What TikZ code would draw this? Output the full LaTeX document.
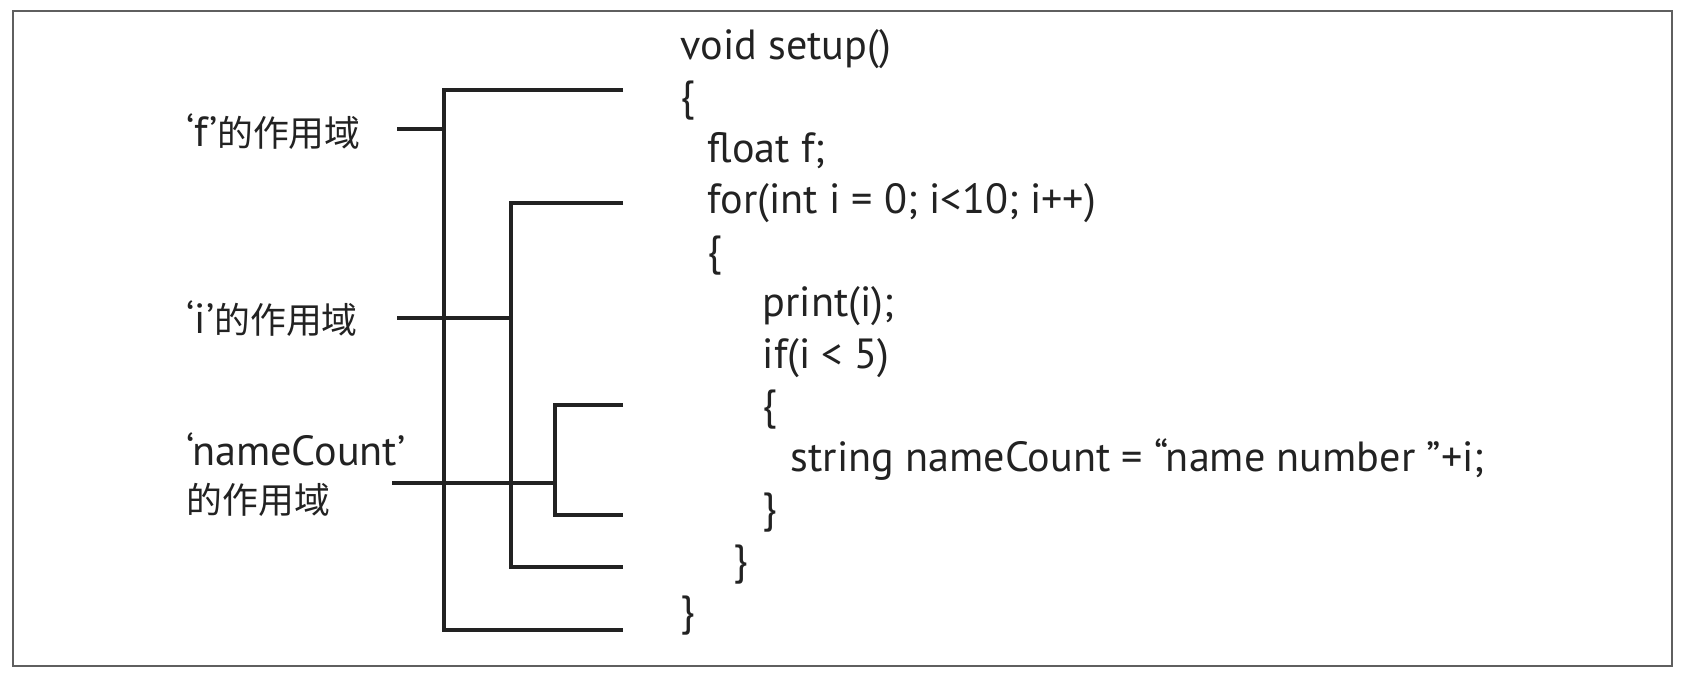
\documentclass[tikz,border=0pt]{standalone}
\usepackage{fontspec}
\setmainfont{PT Sans}
\newfontfamily\cjk[Scale=0.85]{Noto Sans CJK SC}
\usepackage{tikz}
\usetikzlibrary{positioning,calc}
\definecolor{ink}{RGB}{34,34,34}
\definecolor{framegray}{RGB}{95,95,95}

\begin{document}
\begin{tikzpicture}[every node/.style={font=\fontsize{12}{13.7}\selectfont, text=ink, inner sep=0pt},
  code/.style={anchor=west, text height=0.75em, text depth=0.25em},
  scopelabel/.style={anchor=west, align=left},
  scopeline/.style={ink, line width=0.9pt}]
\useasboundingbox (0,0) rectangle (16.84,6.78);
\draw[framegray, line width=0.7pt] (0.13,0.12) rectangle (16.72,6.67);
% ---- the code
\node[code] (c1)  at (6.80,6.275) {void setup()};
\node[code] (c2)  at (6.80,5.76)  {\{};
\node[code] (c3)  at (7.07,5.245) {float f;};
\node[code] (c4)  at (7.07,4.73)  {for(int i = 0; i<10; i++)};
\node[code] (c5)  at (7.07,4.215) {\{};
\node[code] (c6)  at (7.62,3.70)  {print(i);};
\node[code] (c7)  at (7.62,3.185) {if(i < 5)};
\node[code] (c8)  at (7.62,2.67)  {\{};
\node[code] (c9)  at (7.90,2.155) {string nameCount = “name number ”+i;};
\node[code] (c10) at (7.62,1.64)  {\}};
\node[code] (c11) at (7.33,1.125) {\}};
\node[code] (c12) at (6.80,0.61)  {\}};
% ---- the scope labels
\node[scopelabel] (flab) at (1.86,5.46) {‘f’{\cjk 的作用域}};
\node[scopelabel] (ilab) at (1.86,3.59) {‘i’{\cjk 的作用域}};
\node[scopelabel] (nlab) at (1.86,2.03) {‘nameCount’\\{\cjk 的作用域}};
% ---- brackets
\coordinate (fTop) at (6.23,5.88);
\coordinate (fBot) at (6.23,0.48);
\coordinate (fbar) at (4.44,5.49);
\coordinate (fin)  at (3.97,5.49);
\coordinate (iTop) at (6.23,4.75);
\coordinate (iBot) at (6.23,1.11);
\coordinate (ibar) at (5.11,3.60);
\coordinate (iin)  at (3.97,3.60);
\coordinate (nTop) at (6.23,2.73);
\coordinate (nBot) at (6.23,1.63);
\coordinate (nbar) at (5.55,1.95);
\coordinate (nin)  at (3.92,1.95);
\draw[scopeline] (fTop) -| (fbar) |- (fBot);
\draw[scopeline] (fin) -- (fbar);
\draw[scopeline] (iTop) -| (ibar) |- (iBot);
\draw[scopeline] (iin) -- (ibar);
\draw[scopeline] (nTop) -| (nbar) |- (nBot);
\draw[scopeline] (nin) -- (nbar);
\end{tikzpicture}
\end{document}
